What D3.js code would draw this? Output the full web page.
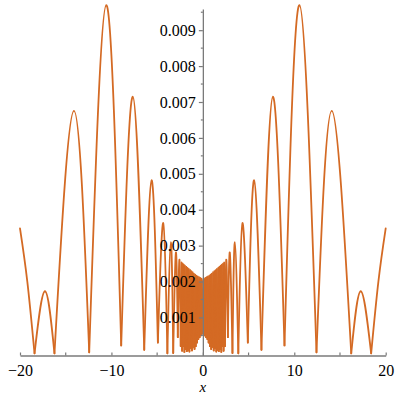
<!DOCTYPE html>
<html>
<head>
<meta charset="utf-8">
<script src="https://cdn.jsdelivr.net/npm/d3@7"></script>
<style>
  html, body { margin: 0; padding: 0; background: #fff; }
  svg text { font-family: "Liberation Serif", "DejaVu Serif", "Times New Roman", serif !important; }
</style>
</head>
<body>
<svg id="chart" width="400" height="400"></svg>
<script>
// ── Data (right half; the curve is mirror-symmetric about x = 0) ──
const peakX = [0, 0.14, 0.28, 0.42, 0.56, 0.70, 0.84, 0.98, 1.12, 1.26, 1.40, 1.54, 1.68, 1.82,
               1.96, 2.08, 2.21, 2.33, 2.56, 2.95, 3.50, 4.33, 5.61, 7.66, 10.57, 14.10, 17.27];
const peakY = [0.00205, 0.00208, 0.00210, 0.00212, 0.00214, 0.00216, 0.00219, 0.00222, 0.00226,
               0.00229, 0.00232, 0.00235, 0.00238, 0.00241, 0.00244, 0.00247, 0.00250, 0.00253,
               0.00261, 0.00281, 0.00310, 0.00363, 0.00482, 0.00715, 0.00970, 0.00675, 0.00173];
const troughX = [0.07, 0.21, 0.35, 0.49, 0.63, 0.77, 0.91, 1.05, 1.19, 1.33, 1.47, 1.61, 1.75, 1.89,
                 2.02, 2.15, 2.27, 2.42, 2.74, 3.24, 3.88, 4.92, 6.41, 8.93, 12.43, 16.23, 18.41];
const troughY = [0.00055, 0.00050, 0.00045, 0.00040, 0.00030, 0.00020, 0.00012, 0.00018, 0.00008,
                 0.00015, 0.00005, 0.00010, 0.00006, 0.00012, 0.00004, 0.00020, 0.00007, 0.00020,
                 0.00045, 0.00001, 0.00000, 0.00030, 0.00010, 0.00022, 0.00003, 0.00000, 0.00000];
// rising tail after the last zero, up to the right edge
const tailX = [19.2, 20];
const tailY = [0.00200, 0.00348];

const xTicks = [-20, -10, 0, 10, 20];
const xMinorTicks = [-15, -5, 5, 15];
const yTicks = [0.001, 0.002, 0.003, 0.004, 0.005, 0.006, 0.007, 0.008, 0.009];
const yMinorTicks = [0.0005, 0.0015, 0.0025, 0.0035, 0.0045, 0.0055, 0.0065, 0.0075, 0.0085, 0.0095];

const LINE_COLOR = '#d46a24';
const AXIS_COLOR = '#7a7a7a';
const FONT = '"Liberation Serif", "DejaVu Serif", "Times New Roman", serif';

// ── Scales ───────────────────────────────────────────────────────
const x = d3.scaleLinear().domain([-20, 20]).range([20, 385.7]);
const y = d3.scaleLinear().domain([-0.00006, 0.00959]).range([355.5, 9]);

const svg = d3.select('#chart');

// ── Curve: one arch per peak, joined at the zeros ────────────────
const right = peakX.map((px, i) => ({
  peak: [px, peakY[i]],
  trough: [troughX[i], troughY[i]],
}));

const arches = [];
right.forEach((r, i) => {
  const prev = i === 0 ? [-troughX[0], troughY[0]] : right[i - 1].trough;
  arches.push([prev, r.peak, r.trough]);
  if (i > 0) {
    arches.push([[-r.trough[0], r.trough[1]], [-r.peak[0], r.peak[1]], [-prev[0], prev[1]]]);
  }
});
const last = right[right.length - 1].trough;
const tail = [last, ...tailX.map((tx, i) => [tx, tailY[i]])];
arches.push(tail);
arches.push(tail.map(p => [-p[0], p[1]]).reverse());

const line = d3.line()
  .x(d => x(d[0]))
  .y(d => y(d[1]))
  .curve(d3.curveNatural);

svg.append('g')
  .selectAll('path')
  .data(arches)
  .enter()
  .append('path')
  .attr('d', line)
  .attr('fill', 'none')
  .attr('stroke', LINE_COLOR)
  .attr('stroke-width', 1.8)
  .attr('stroke-linecap', 'round')
  .attr('stroke-linejoin', 'round');

// ── Axes ─────────────────────────────────────────────────────────
const x0 = x(0);
const yAxisY = y.range()[0];

const xAxis = svg.append('g')
  .attr('transform', `translate(0,${yAxisY})`)
  .attr('font-family', FONT)
  .call(d3.axisBottom(x).tickValues(xTicks).tickSize(-3).tickSizeOuter(0).tickPadding(9));
xAxis.attr('font-family', FONT);
xAxis.select('.domain').attr('stroke', AXIS_COLOR).attr('stroke-width', 1.3);
xAxis.selectAll('.tick line').attr('stroke', AXIS_COLOR).attr('stroke-width', 1.2);
xAxis.selectAll('.tick text')
  .style('font-size', '16px')
  .style('font-family', FONT)
  .attr('fill', '#000');
xAxis.selectAll('.minor')
  .data(xMinorTicks)
  .enter()
  .append('line')
  .attr('x1', d => x(d)).attr('x2', d => x(d))
  .attr('y1', 0).attr('y2', -3)
  .attr('stroke', AXIS_COLOR).attr('stroke-width', 1.2);

const yAxis = svg.append('g')
  .attr('transform', `translate(${x0},0)`)
  .call(d3.axisLeft(y).tickValues(yTicks).tickSize(4).tickSizeOuter(0).tickPadding(3)
    .tickFormat(d3.format('.3f')));
yAxis.attr('font-family', FONT);
yAxis.select('.domain').attr('stroke', AXIS_COLOR).attr('stroke-width', 1.3);
yAxis.selectAll('.tick line').attr('stroke', AXIS_COLOR).attr('stroke-width', 1.2);
yAxis.selectAll('.tick text')
  .style('font-size', '16px')
  .style('font-family', FONT)
  .attr('fill', '#000');
yAxis.selectAll('.minor')
  .data(yMinorTicks)
  .enter()
  .append('line')
  .attr('x1', 0).attr('x2', -2)
  .attr('y1', d => y(d)).attr('y2', d => y(d))
  .attr('stroke', AXIS_COLOR).attr('stroke-width', 1.2);

// axis title
svg.append('text')
  .attr('x', x0)
  .attr('y', 392)
  .attr('text-anchor', 'middle')
  .style('font-size', '15px')
  .style('font-family', FONT)
  .style('font-style', 'italic')
  .text('x');
</script>
</body>
</html>
